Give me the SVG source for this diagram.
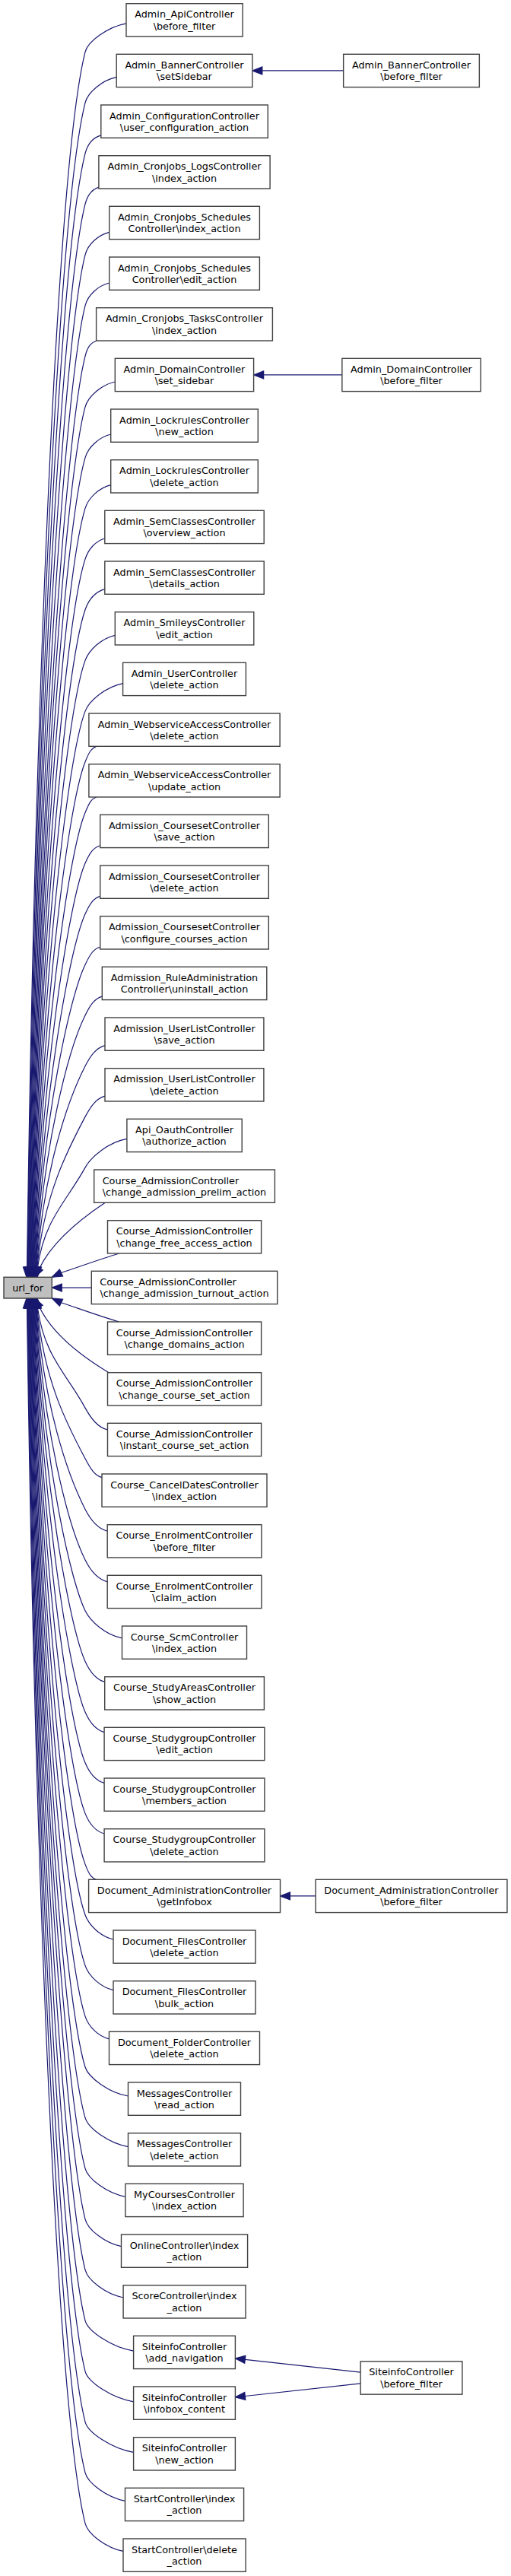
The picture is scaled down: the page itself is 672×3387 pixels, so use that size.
<svg xmlns="http://www.w3.org/2000/svg" width="672" height="3387" viewBox="0 0 672 3387">
<style>
.n rect{fill:#fff;stroke:#404040;stroke-width:1.4}
.n text{font-family:"DejaVu Sans","Liberation Sans",sans-serif;font-size:12.8px;text-anchor:middle;fill:#000}
.n text.l{text-anchor:start}
.u rect{fill:#bfbfbf}
.e path{fill:none;stroke:#191970;stroke-width:1.2}
.e polygon{fill:#191970;stroke:#191970;stroke-width:1.2}
</style>
<rect width="672" height="3387" fill="#fff"/>
<g id="edges" class="e">
<g id="edges-up" transform="matrix(1 0 0 -1 0 1693.1)">
<path d="M166,1662.2 C141.7,1657.7 115.5,1638.7 112,1624.7 C76,1480.9 46.2,793.8 35.5,26.9"/><polygon points="30.5,26.9 40.5,26.9 35,13.85"/>
<path d="M153.2,1591.7 C134.7,1587.7 115.5,1572 112,1558 C77.5,1420.2 46.7,761.8 36.1,26.9"/><polygon points="31.1,26.9 41.1,26.9 35.6,13.85"/>
<path d="M132.8,1515.3 C123.4,1512.5 115.5,1505.3 112,1491.3 C79,1359.5 47.3,729.8 36.8,26.9"/><polygon points="31.8,26.9 41.8,26.9 36.3,13.85"/>
<path d="M129.9,1447 C121.8,1444.3 115.5,1438.7 112,1424.7 C80.5,1298.9 47.8,697.8 37.4,26.9"/><polygon points="32.4,26.9 42.4,26.9 36.9,13.85"/>
<path d="M143.7,1387.8 C129.4,1384.3 115.5,1372 112,1358 C82,1238.2 48.4,665.8 38,26.9"/><polygon points="33,26.9 43,26.9 37.5,13.85"/>
<path d="M143.7,1321.1 C129.4,1317.6 115.5,1305.3 112,1291.3 C83.5,1177.5 49,633.8 38.7,26.9"/><polygon points="33.7,26.9 43.7,26.9 38.2,13.85"/>
<path d="M126.8,1245.1 C120.1,1242.6 115.5,1238.7 112,1224.7 C85,1116.9 49.5,601.8 39.3,26.9"/><polygon points="34.3,26.9 44.3,26.9 38.8,13.85"/>
<path d="M151.3,1191.1 C133.6,1187.2 115.8,1172 112,1158 C84.6,1056.2 50.1,569.8 40,26.9"/><polygon points="35,26.9 45,26.9 39.5,13.85"/>
<path d="M145.7,1122.1 C130.5,1118.4 116,1105.3 112,1091.3 C84.4,995.5 50.6,537.8 40.6,26.9"/><polygon points="35.6,26.9 45.6,26.9 40.1,13.85"/>
<path d="M145.7,1055.5 C130.5,1051.8 116.3,1038.7 112,1024.7 C84.4,934.9 51.1,505.8 41.2,26.9"/><polygon points="36.2,26.9 46.2,26.9 40.7,13.85"/>
<path d="M137.8,985.1 C126.2,981.8 116.6,972 112,958 C84.8,874.2 51.7,473.8 41.9,26.9"/><polygon points="36.9,26.9 46.9,26.9 41.4,13.85"/>
<path d="M137.8,918.4 C126.2,915.1 116.8,905.3 112,891.3 C85.2,813.5 52.2,441.8 42.5,26.9"/><polygon points="37.5,26.9 47.5,26.9 42,13.85"/>
<path d="M151.3,857.8 C133.6,853.9 117.1,838.7 112,824.7 C85.9,752.9 52.7,409.8 43.1,26.9"/><polygon points="38.1,26.9 48.1,26.9 42.6,13.85"/>
<path d="M161.6,794.5 C139.3,790.1 117.3,772 112,758 C86.9,692.2 53.3,377.8 43.8,26.9"/><polygon points="38.8,26.9 48.8,26.9 43.3,13.85"/>
<path d="M126.8,711.7 C120.1,709.3 117.6,705.3 112,691.3 C88.1,631.5 53.9,345.8 44.4,26.9"/><polygon points="39.4,26.9 49.4,26.9 43.9,13.85"/>
<path d="M126.8,645.1 C120.1,642.7 117.9,638.7 112,624.7 C89.5,570.9 54.4,313.8 45,26.9"/><polygon points="40,26.9 50,26.9 44.5,13.85"/>
<path d="M131.7,581.4 C122.8,578.6 118.1,572 112,558 C91.1,510.2 55,281.8 45.7,26.9"/><polygon points="40.7,26.9 50.7,26.9 45.2,13.85"/>
<path d="M131.7,514.7 C122.8,511.9 118.4,505.3 112,491.3 C91.5,446.3 55.6,249.8 46.4,26.9"/><polygon points="41.4,26.9 51.4,26.9 45.9,13.85"/>
<path d="M131.7,448.1 C122.8,445.3 118.7,438.7 112,424.7 C90.6,379.7 56.1,217.8 47,26.9"/><polygon points="42,26.9 52,26.9 46.5,13.85"/>
<path d="M134.3,382.9 C124.3,380 118.9,372 112,358 C89.8,313 56.6,185.8 47.6,26.9"/><polygon points="42.6,26.9 52.6,26.9 47.1,13.85"/>
<path d="M138,318.5 C126.3,315.2 119.2,305.3 112,291.3 C89,246.3 57.1,153.8 48.2,26.9"/><polygon points="43.2,26.9 53.2,26.9 47.7,13.85"/>
<path d="M138,251.9 C126.3,248.6 119.4,238.7 112,224.7 C88.1,179.7 57.7,121.8 48.9,26.9"/><polygon points="43.9,26.9 53.9,26.9 48.4,13.85"/>
<path d="M166.9,195.7 C142.2,191.2 119.7,172 112,158 C87.3,113 58.3,89.8 49.5,26.9"/><polygon points="44.5,26.9 54.5,26.9 49,13.85"/>
<path d="M138.3,111.8 C110,93 70,63 51.8,25.4"/><polygon points="56.3,23.2 47.3,27.6 46,13.85"/>
<path d="M156.7,45.1 C130,37 100,26 80.5,19.6"/><polygon points="82.65,15.1 78.35,24.1 68.3,13.85"/>
</g>
<g id="edges-down" transform="translate(0 1693.1)">
<path d="M156.7,44.9 C130,37 100,26 80.5,19.6"/><polygon points="82.65,15.1 78.35,24.1 68.3,13.85"/>
<path d="M143,111.6 C112,93 70,63 51.8,25.4"/><polygon points="56.3,23.2 47.3,27.6 46,13.85"/>
<path d="M141.5,186.9 C128.2,183.4 119.7,172 112,158 C87.3,113 58.3,89.8 49.5,26.9"/><polygon points="44.5,26.9 54.5,26.9 49,13.85"/>
<path d="M134,249.5 C124.1,246.5 119.4,238.7 112,224.7 C88.1,179.7 57.7,121.8 48.9,26.9"/><polygon points="43.9,26.9 53.9,26.9 48.4,13.85"/>
<path d="M141.2,320 C128.1,316.6 119.2,305.3 112,291.3 C89,246.3 57.1,153.8 48.2,26.9"/><polygon points="43.2,26.9 53.2,26.9 47.7,13.85"/>
<path d="M141.2,386.7 C128.1,383.3 118.9,372 112,358 C89.8,313 56.6,185.8 47.6,26.9"/><polygon points="42.6,26.9 52.6,26.9 47.1,13.85"/>
<path d="M160.5,460.8 C138.7,456.5 118.7,438.7 112,424.7 C90.6,379.7 56.1,217.8 47,26.9"/><polygon points="42,26.9 52,26.9 46.5,13.85"/>
<path d="M137.7,518.3 C126.1,515.1 118.4,505.3 112,491.3 C91.5,446.3 55.6,249.8 46.4,26.9"/><polygon points="41.4,26.9 51.4,26.9 45.9,13.85"/>
<path d="M137.1,584.6 C125.8,581.5 118.1,572 112,558 C91.1,510.2 55,281.8 45.7,26.9"/><polygon points="40.7,26.9 50.7,26.9 45.2,13.85"/>
<path d="M137.1,651.3 C125.8,648.2 117.9,638.7 112,624.7 C89.5,570.9 54.4,313.8 45,26.9"/><polygon points="40,26.9 50,26.9 44.5,13.85"/>
<path d="M137.1,717.9 C125.8,714.8 117.6,705.3 112,691.3 C88.1,631.5 53.9,345.8 44.4,26.9"/><polygon points="39.4,26.9 49.4,26.9 43.9,13.85"/>
<path d="M126.8,778.4 C120.1,776 117.3,772 112,758 C86.9,692.2 53.3,377.8 43.8,26.9"/><polygon points="38.8,26.9 48.8,26.9 43.3,13.85"/>
<path d="M149,856.9 C132.4,853.1 117.1,838.7 112,824.7 C85.9,752.9 52.7,409.8 43.1,26.9"/><polygon points="38.1,26.9 48.1,26.9 42.6,13.85"/>
<path d="M149,923.5 C132.4,919.7 116.8,905.3 112,891.3 C85.2,813.5 52.2,441.8 42.5,26.9"/><polygon points="37.5,26.9 47.5,26.9 42,13.85"/>
<path d="M143.5,987.8 C129.3,984.2 116.6,972 112,958 C84.8,874.2 51.7,473.8 41.9,26.9"/><polygon points="36.9,26.9 46.9,26.9 41.4,13.85"/>
<path d="M168.5,1062.9 C143.1,1058.3 116.3,1038.7 112,1024.7 C84.4,934.9 51.1,505.8 41.2,26.9"/><polygon points="36.2,26.9 46.2,26.9 40.7,13.85"/>
<path d="M168.5,1129.5 C143.1,1124.9 116,1105.3 112,1091.3 C84.4,995.5 50.6,537.8 40.6,26.9"/><polygon points="35.6,26.9 45.6,26.9 40.1,13.85"/>
<path d="M164.9,1195.2 C141.1,1190.8 115.8,1172 112,1158 C84.6,1056.2 50.1,569.8 40,26.9"/><polygon points="35,26.9 45,26.9 39.5,13.85"/>
<path d="M159.5,1260.5 C138.1,1256.2 115.5,1238.7 112,1224.7 C85,1116.9 49.5,601.8 39.3,26.9"/><polygon points="34.3,26.9 44.3,26.9 38.8,13.85"/>
<path d="M162.1,1327.9 C139.6,1323.5 115.5,1305.3 112,1291.3 C83.5,1177.5 49,633.8 38.7,26.9"/><polygon points="33.7,26.9 43.7,26.9 38.2,13.85"/>
<path d="M175.6,1398 C147,1393.2 115.5,1372 112,1358 C82,1238.2 48.4,665.8 38,26.9"/><polygon points="33,26.9 43,26.9 37.5,13.85"/>
<path d="M175.6,1464.7 C147,1459.9 115.5,1438.7 112,1424.7 C80.5,1298.9 47.8,697.8 37.4,26.9"/><polygon points="32.4,26.9 42.4,26.9 36.9,13.85"/>
<path d="M175.6,1531.3 C147,1526.5 115.5,1505.3 112,1491.3 C79,1359.5 47.3,729.8 36.8,26.9"/><polygon points="31.8,26.9 41.8,26.9 36.3,13.85"/>
<path d="M164.5,1595.2 C140.9,1590.7 115.5,1572 112,1558 C77.5,1420.2 46.7,761.8 36.1,26.9"/><polygon points="31.1,26.9 41.1,26.9 35.6,13.85"/>
<path d="M162,1661.3 C139.5,1656.9 115.5,1638.7 112,1624.7 C76,1480.9 46.2,793.8 35.5,26.9"/><polygon points="30.5,26.9 40.5,26.9 35,13.85"/>
</g>
<path d="M120.3,1693.1 L81.3,1693.1"/><polygon points="81.3,1688.1 81.3,1698.1 68.3,1693.1"/>
<path d="M451.65,92.95 L344.85,92.95"/><polygon points="344.85,87.95 344.85,97.95 331.85,92.95"/>
<path d="M449.85,492.95 L346.65,492.95"/><polygon points="346.65,487.95 346.65,497.95 333.65,492.95"/>
<path d="M415.05,2492.95 L381.45,2492.95"/><polygon points="381.45,2487.95 381.45,2497.95 368.45,2492.95"/>
<path d="M474.1,3119.2 L322.3,3102.3"/><polygon points="322.85,3097.3 321.75,3107.3 309.4,3100.9"/>
<path d="M474.1,3133.8 L322.3,3150.5"/><polygon points="322.85,3155.5 321.75,3145.5 309.4,3151.9"/>
</g>
<g id="url_for" class="n u"><rect x="5" y="1679.3" width="63.3" height="27.7"/><text x="36.65" y="1697.8">url_for</text></g>
<g id="n1" class="n" transform="translate(0,4.7)"><rect x="166" y="0" width="153.1" height="43.3"/><text x="242.5" y="18.5">Admin_ApiController</text><text x="242.5" y="34.2">\before_filter</text></g>
<g id="n2" class="n" transform="translate(0,71.3)"><rect x="153.2" y="0" width="178.7" height="43.3"/><text x="242.5" y="18.5">Admin_BannerController</text><text x="242.5" y="34.2">\setSidebar</text></g>
<g id="n3" class="n" transform="translate(0,138)"><rect x="132.8" y="0" width="219.5" height="43.3"/><text x="242.5" y="18.5">Admin_ConfigurationController</text><text x="242.5" y="34.2">\user_configuration_action</text></g>
<g id="n4" class="n" transform="translate(0,204.7)"><rect x="129.9" y="0" width="225.2" height="43.3"/><text x="242.5" y="18.5">Admin_Cronjobs_LogsController</text><text x="242.5" y="34.2">\index_action</text></g>
<g id="n5" class="n" transform="translate(0,271.3)"><rect x="143.7" y="0" width="197.7" height="43.3"/><text x="242.5" y="18.5">Admin_Cronjobs_Schedules</text><text x="242.5" y="34.2">Controller\index_action</text></g>
<g id="n6" class="n" transform="translate(0,338)"><rect x="143.7" y="0" width="197.7" height="43.3"/><text x="242.5" y="18.5">Admin_Cronjobs_Schedules</text><text x="242.5" y="34.2">Controller\edit_action</text></g>
<g id="n7" class="n" transform="translate(0,404.7)"><rect x="126.6" y="0" width="231.8" height="43.3"/><text x="242.5" y="18.5">Admin_Cronjobs_TasksController</text><text x="242.5" y="34.2">\index_action</text></g>
<g id="n8" class="n" transform="translate(0,471.3)"><rect x="151.3" y="0" width="182.3" height="43.3"/><text x="242.5" y="18.5">Admin_DomainController</text><text x="242.5" y="34.2">\set_sidebar</text></g>
<g id="n9" class="n" transform="translate(0,538)"><rect x="145.7" y="0" width="193.6" height="43.3"/><text x="242.5" y="18.5">Admin_LockrulesController</text><text x="242.5" y="34.2">\new_action</text></g>
<g id="n10" class="n" transform="translate(0,604.7)"><rect x="145.7" y="0" width="193.6" height="43.3"/><text x="242.5" y="18.5">Admin_LockrulesController</text><text x="242.5" y="34.2">\delete_action</text></g>
<g id="n11" class="n" transform="translate(0,671.3)"><rect x="137.8" y="0" width="209.4" height="43.3"/><text x="242.5" y="18.5">Admin_SemClassesController</text><text x="242.5" y="34.2">\overview_action</text></g>
<g id="n12" class="n" transform="translate(0,738)"><rect x="137.8" y="0" width="209.4" height="43.3"/><text x="242.5" y="18.5">Admin_SemClassesController</text><text x="242.5" y="34.2">\details_action</text></g>
<g id="n13" class="n" transform="translate(0,804.7)"><rect x="151.3" y="0" width="182.5" height="43.3"/><text x="242.5" y="18.5">Admin_SmileysController</text><text x="242.5" y="34.2">\edit_action</text></g>
<g id="n14" class="n" transform="translate(0,871.3)"><rect x="161.6" y="0" width="161.8" height="43.3"/><text x="242.5" y="18.5">Admin_UserController</text><text x="242.5" y="34.2">\delete_action</text></g>
<g id="n15" class="n" transform="translate(0,938)"><rect x="116.9" y="0" width="251.2" height="43.3"/><text x="242.5" y="18.5">Admin_WebserviceAccessController</text><text x="242.5" y="34.2">\delete_action</text></g>
<g id="n16" class="n" transform="translate(0,1004.7)"><rect x="116.9" y="0" width="251.2" height="43.3"/><text x="242.5" y="18.5">Admin_WebserviceAccessController</text><text x="242.5" y="34.2">\update_action</text></g>
<g id="n17" class="n" transform="translate(0,1071.3)"><rect x="131.7" y="0" width="221.6" height="43.3"/><text x="242.5" y="18.5">Admission_CoursesetController</text><text x="242.5" y="34.2">\save_action</text></g>
<g id="n18" class="n" transform="translate(0,1138)"><rect x="131.7" y="0" width="221.6" height="43.3"/><text x="242.5" y="18.5">Admission_CoursesetController</text><text x="242.5" y="34.2">\delete_action</text></g>
<g id="n19" class="n" transform="translate(0,1204.7)"><rect x="131.7" y="0" width="221.6" height="43.3"/><text x="242.5" y="18.5">Admission_CoursesetController</text><text x="242.5" y="34.2">\configure_courses_action</text></g>
<g id="n20" class="n" transform="translate(0,1271.3)"><rect x="134.3" y="0" width="216.5" height="43.3"/><text x="242.5" y="18.5">Admission_RuleAdministration</text><text x="242.5" y="34.2">Controller\uninstall_action</text></g>
<g id="n21" class="n" transform="translate(0,1338)"><rect x="138" y="0" width="208.9" height="43.3"/><text x="242.5" y="18.5">Admission_UserListController</text><text x="242.5" y="34.2">\save_action</text></g>
<g id="n22" class="n" transform="translate(0,1404.7)"><rect x="138" y="0" width="208.9" height="43.3"/><text x="242.5" y="18.5">Admission_UserListController</text><text x="242.5" y="34.2">\delete_action</text></g>
<g id="n23" class="n" transform="translate(0,1471.3)"><rect x="166.9" y="0" width="151.3" height="43.3"/><text x="242.5" y="18.5">Api_OauthController</text><text x="242.5" y="34.2">\authorize_action</text></g>
<g id="n24" class="n" transform="translate(0,1538)"><rect x="123.7" y="0" width="237.7" height="43.3"/><text class="l" x="134.7" y="18.5">Course_AdmissionController</text><text x="242.5" y="34.2">\change_admission_prelim_action</text></g>
<g id="n25" class="n" transform="translate(0,1604.7)"><rect x="141.5" y="0" width="202.1" height="43.3"/><text x="242.5" y="18.5">Course_AdmissionController</text><text x="242.5" y="34.2">\change_free_access_action</text></g>
<g id="n26" class="n" transform="translate(0,1671.3)"><rect x="120.3" y="0" width="244.4" height="43.3"/><text class="l" x="131.3" y="18.5">Course_AdmissionController</text><text x="242.5" y="34.2">\change_admission_turnout_action</text></g>
<g id="n27" class="n" transform="translate(0,1738)"><rect x="141.5" y="0" width="202.1" height="43.3"/><text x="242.5" y="18.5">Course_AdmissionController</text><text x="242.5" y="34.2">\change_domains_action</text></g>
<g id="n28" class="n" transform="translate(0,1804.7)"><rect x="141.5" y="0" width="202.1" height="43.3"/><text x="242.5" y="18.5">Course_AdmissionController</text><text x="242.5" y="34.2">\change_course_set_action</text></g>
<g id="n29" class="n" transform="translate(0,1871.3)"><rect x="141.5" y="0" width="202.1" height="43.3"/><text x="242.5" y="18.5">Course_AdmissionController</text><text x="242.5" y="34.2">\instant_course_set_action</text></g>
<g id="n30" class="n" transform="translate(0,1938)"><rect x="134" y="0" width="217" height="43.3"/><text x="242.5" y="18.5">Course_CancelDatesController</text><text x="242.5" y="34.2">\index_action</text></g>
<g id="n31" class="n" transform="translate(0,2004.7)"><rect x="141.2" y="0" width="202.7" height="43.3"/><text x="242.5" y="18.5">Course_EnrolmentController</text><text x="242.5" y="34.2">\before_filter</text></g>
<g id="n32" class="n" transform="translate(0,2071.3)"><rect x="141.2" y="0" width="202.7" height="43.3"/><text x="242.5" y="18.5">Course_EnrolmentController</text><text x="242.5" y="34.2">\claim_action</text></g>
<g id="n33" class="n" transform="translate(0,2138)"><rect x="160.5" y="0" width="164" height="43.3"/><text x="242.5" y="18.5">Course_ScmController</text><text x="242.5" y="34.2">\index_action</text></g>
<g id="n34" class="n" transform="translate(0,2204.7)"><rect x="137.7" y="0" width="209.7" height="43.3"/><text x="242.5" y="18.5">Course_StudyAreasController</text><text x="242.5" y="34.2">\show_action</text></g>
<g id="n35" class="n" transform="translate(0,2271.3)"><rect x="137.1" y="0" width="210.8" height="43.3"/><text x="242.5" y="18.5">Course_StudygroupController</text><text x="242.5" y="34.2">\edit_action</text></g>
<g id="n36" class="n" transform="translate(0,2338)"><rect x="137.1" y="0" width="210.8" height="43.3"/><text x="242.5" y="18.5">Course_StudygroupController</text><text x="242.5" y="34.2">\members_action</text></g>
<g id="n37" class="n" transform="translate(0,2404.7)"><rect x="137.1" y="0" width="210.8" height="43.3"/><text x="242.5" y="18.5">Course_StudygroupController</text><text x="242.5" y="34.2">\delete_action</text></g>
<g id="n38" class="n" transform="translate(0,2471.3)"><rect x="116.6" y="0" width="251.9" height="43.3"/><text x="242.5" y="18.5">Document_AdministrationController</text><text x="242.5" y="34.2">\getInfobox</text></g>
<g id="n39" class="n" transform="translate(0,2538)"><rect x="149" y="0" width="187" height="43.3"/><text x="242.5" y="18.5">Document_FilesController</text><text x="242.5" y="34.2">\delete_action</text></g>
<g id="n40" class="n" transform="translate(0,2604.7)"><rect x="149" y="0" width="187" height="43.3"/><text x="242.5" y="18.5">Document_FilesController</text><text x="242.5" y="34.2">\bulk_action</text></g>
<g id="n41" class="n" transform="translate(0,2671.3)"><rect x="143.5" y="0" width="198" height="43.3"/><text x="242.5" y="18.5">Document_FolderController</text><text x="242.5" y="34.2">\delete_action</text></g>
<g id="n42" class="n" transform="translate(0,2738)"><rect x="168.5" y="0" width="148" height="43.3"/><text x="242.5" y="18.5">MessagesController</text><text x="242.5" y="34.2">\read_action</text></g>
<g id="n43" class="n" transform="translate(0,2804.7)"><rect x="168.5" y="0" width="148" height="43.3"/><text x="242.5" y="18.5">MessagesController</text><text x="242.5" y="34.2">\delete_action</text></g>
<g id="n44" class="n" transform="translate(0,2871.3)"><rect x="164.9" y="0" width="155.2" height="43.3"/><text x="242.5" y="18.5">MyCoursesController</text><text x="242.5" y="34.2">\index_action</text></g>
<g id="n45" class="n" transform="translate(0,2938)"><rect x="159.5" y="0" width="166.1" height="43.3"/><text x="242.5" y="18.5">OnlineController\index</text><text x="242.5" y="34.2">_action</text></g>
<g id="n46" class="n" transform="translate(0,3004.7)"><rect x="162.1" y="0" width="160.9" height="43.3"/><text x="242.5" y="18.5">ScoreController\index</text><text x="242.5" y="34.2">_action</text></g>
<g id="n47" class="n" transform="translate(0,3071.3)"><rect x="175.6" y="0" width="133.8" height="43.3"/><text x="242.5" y="18.5">SiteinfoController</text><text x="242.5" y="34.2">\add_navigation</text></g>
<g id="n48" class="n" transform="translate(0,3138)"><rect x="175.6" y="0" width="133.8" height="43.3"/><text x="242.5" y="18.5">SiteinfoController</text><text x="242.5" y="34.2">\infobox_content</text></g>
<g id="n49" class="n" transform="translate(0,3204.7)"><rect x="175.6" y="0" width="133.8" height="43.3"/><text x="242.5" y="18.5">SiteinfoController</text><text x="242.5" y="34.2">\new_action</text></g>
<g id="n50" class="n" transform="translate(0,3271.3)"><rect x="164.5" y="0" width="156.1" height="43.3"/><text x="242.5" y="18.5">StartController\index</text><text x="242.5" y="34.2">_action</text></g>
<g id="n51" class="n" transform="translate(0,3338)"><rect x="162" y="0" width="161.1" height="43.3"/><text x="242.5" y="18.5">StartController\delete</text><text x="242.5" y="34.2">_action</text></g>
<g id="r1" class="n" transform="translate(0,71.3)"><rect x="451.65" y="0" width="178.7" height="43.3"/><text x="541" y="18.5">Admin_BannerController</text><text x="541" y="34.2">\before_filter</text></g>
<g id="r2" class="n" transform="translate(0,471.3)"><rect x="449.85" y="0" width="182.3" height="43.3"/><text x="541" y="18.5">Admin_DomainController</text><text x="541" y="34.2">\before_filter</text></g>
<g id="r3" class="n" transform="translate(0,2471.3)"><rect x="415.05" y="0" width="251.9" height="43.3"/><text x="541" y="18.5">Document_AdministrationController</text><text x="541" y="34.2">\before_filter</text></g>
<g id="r4" class="n" transform="translate(0,3104.85)"><rect x="474.1" y="0" width="133.8" height="43.3"/><text x="541" y="18.5">SiteinfoController</text><text x="541" y="34.2">\before_filter</text></g>
</svg>
